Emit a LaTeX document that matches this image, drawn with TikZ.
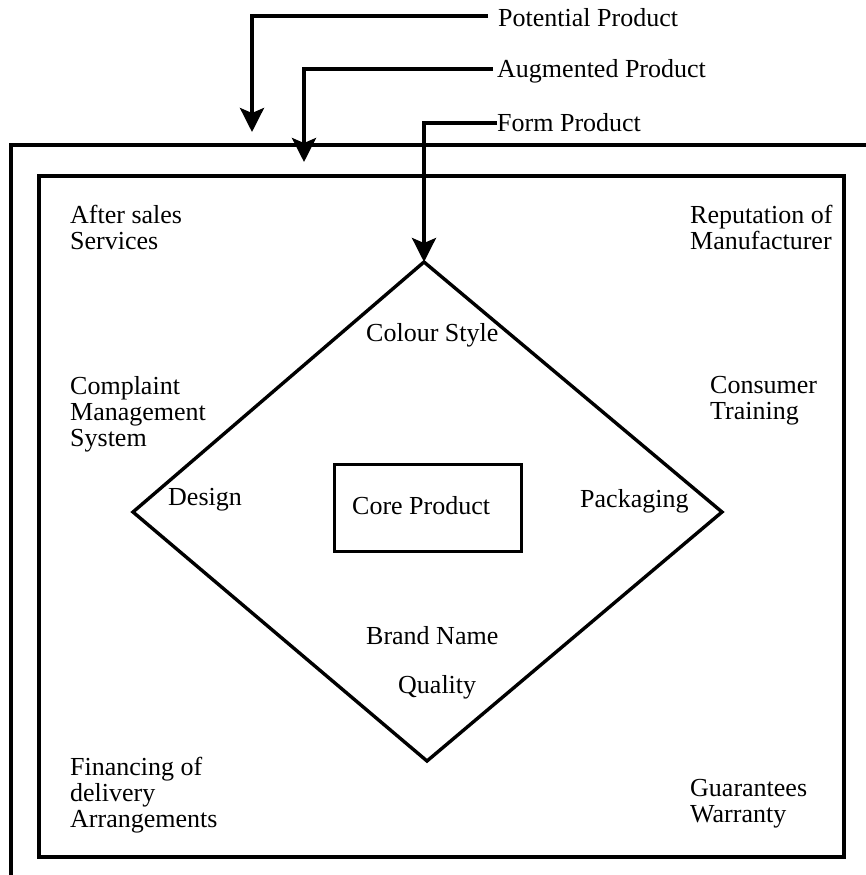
\documentclass[tikz,border=0pt]{standalone}
\usepackage{fontspec}
\setmainfont{Liberation Serif}
\usetikzlibrary{arrows.meta}
\begin{document}
\begin{tikzpicture}[x=1pt,y=-1pt,
  lbl/.style={anchor=west,inner sep=0pt,align=left,font=\fontsize{26pt}{26pt}\selectfont},
  frame/.style={line width=4pt,line join=miter},
  lead/.style={line width=3.6pt,-{Stealth[length=24pt,width=24pt,inset=5pt]}},
  thin/.style={line width=3.4pt,line join=miter}]
\useasboundingbox (0,0) rectangle (866,875);
% outer frame (open to the right and bottom)
\coordinate (oR) at (866,145);
\coordinate (oTL) at (11,145);
\coordinate (oB) at (11,875);
\draw[frame] (oR) -- (oTL) -- (oB);
% inner box
\node[draw,frame,minimum width=805pt,minimum height=681pt,inner sep=0pt,anchor=north west] (inner) at (37,174) {};
% diamond
\coordinate (dT) at (424,262);
\coordinate (dR) at (722,512);
\coordinate (dB) at (427,761);
\coordinate (dL) at (133,512);
\draw[thin] (dT) -- (dR) -- (dB) -- (dL) -- cycle;
% core product box
\node[draw,thin,minimum width=187pt,minimum height=87pt,inner sep=0pt,anchor=north west] (core) at (333,463) {};
\node[lbl] (coretxt) at (352,506) {Core Product};
% top labels
\node[lbl] (pot) at (498,18) {Potential Product};
\node[lbl] (aug) at (497,71) {Augmented Product};
\node[lbl] (form) at (497,123) {Form Product};
\coordinate (potTip) at (252,132);
\coordinate (augTip) at (304,162);
\draw[lead] ([xshift=-10pt]pot.west |- 0,16) -| (potTip);
\draw[lead] ([xshift=-4pt]aug.west |- 0,69) -| (augTip);
\draw[lead] (form.west |- 0,123) -| (dT);
% other labels
\node[lbl] (after) at (70,227) {After sales\\Services};
\node[lbl] (rep) at (690,227) {Reputation of\\Manufacturer};
\node[lbl] (colour) at (366,335) {Colour Style};
\node[lbl] (compl) at (70,414) {Complaint\\Management\\System};
\node[lbl] (cons) at (710,401) {Consumer\\Training};
\node[lbl] (design) at (168,500) {Design};
\node[lbl] (pack) at (580,501) {Packaging};
\node[lbl] (brand) at (366,636) {Brand Name};
\node[lbl] (qual) at (398,687) {Quality};
\node[lbl] (fin) at (70,795) {Financing of\\delivery\\Arrangements};
\node[lbl] (guar) at (690,804) {Guarantees\\Warranty};
\end{tikzpicture}
\end{document}
